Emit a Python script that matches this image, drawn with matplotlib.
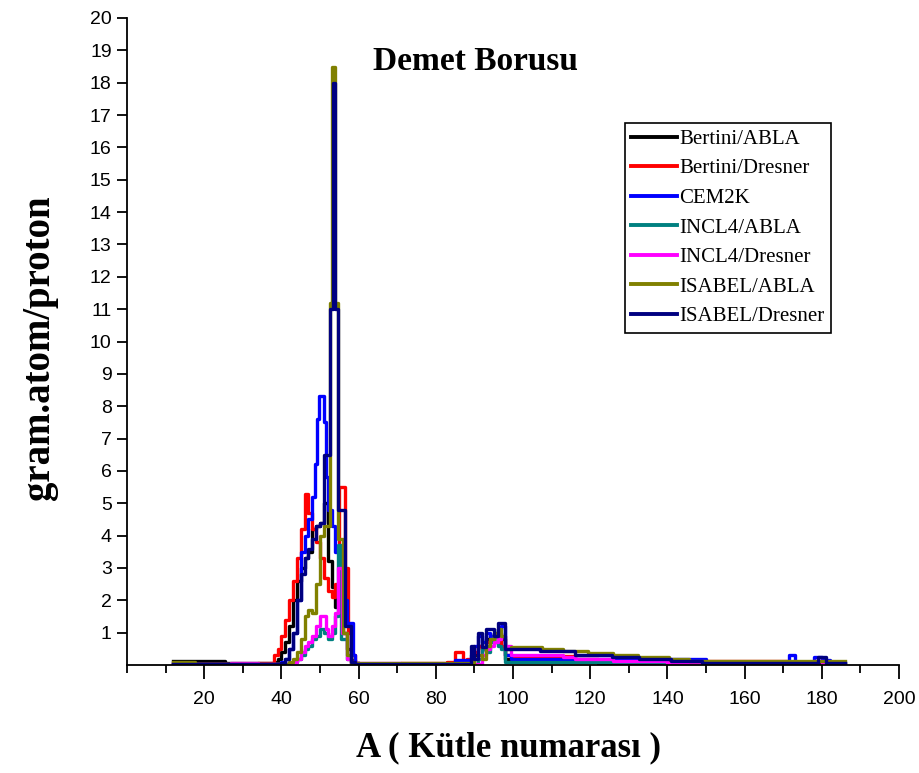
import numpy as np
import matplotlib.pyplot as plt
from matplotlib.ticker import MultipleLocator, FixedLocator

# step edges (A) and levels, drawn as steps-post
A_bertini_abla = [12, 25.5, 36, 38, 39, 40, 41, 42, 43, 44, 45, 46, 47, 48, 49, 50, 51, 52, 53, 54, 55, 56, 57, 58, 59, 60,
                  88, 90, 91, 92, 93, 94, 95, 96, 97, 98, 99.5, 113, 122, 150, 186]
y_bertini_abla = [0.13, 0.06, 0.05, 0.1, 0.2, 0.4, 0.7, 1.2, 2.0, 2.6, 3.0, 3.3, 3.5, 4.2, 4.3, 4.4, 5.0, 3.2, 2.4, 1.8, 1.6, 1.0, 0.5, 0.15, 0.05, 0.02,
                  0.1, 0.3, 0.6, 0.5, 0.8, 0.9, 0.7, 1.0, 0.8, 0.2, 0.12, 0.08, 0.05, 0.04, 0.04]

A_bertini_dresner = [12, 34, 38, 39, 40, 41, 42, 43, 44, 45, 46, 47, 48, 49, 50, 51, 52, 53, 54, 55, 56.6, 57.3, 58, 59, 60, 71, 83, 85, 87,
                     88, 90, 91, 92, 93, 94, 95, 96, 97, 98, 99.5, 113, 116, 122, 150, 171, 173]
y_bertini_dresner = [0.03, 0.07, 0.3, 0.5, 0.9, 1.4, 2.0, 2.6, 3.3, 4.2, 5.3, 4.7, 4.2, 3.8, 3.3, 2.7, 2.3, 2.1, 2.5, 5.5, 3.0, 1.0, 0.3, 0.06, 0.02, 0.06, 0.1, 0.4, 0.15,
                     0.2, 0.4, 0.6, 0.5, 0.7, 0.8, 0.9, 0.8, 0.6, 0.3, 0.24, 0.28, 0.2, 0.15, 0.13, 0.05, 0.05]

A_cem2k = [12, 40, 41, 42, 43, 44, 45, 46, 47, 48, 48.7, 49.3, 49.8, 51, 51.5, 52, 53, 54, 55, 56, 57, 58.5, 59, 60, 85, 89,
           90, 91, 92, 93, 94, 95, 96, 97, 98, 99.5, 150, 171.5, 173, 178, 180, 182, 186]
y_cem2k = [0.02, 0.1, 0.2, 0.5, 1.0, 2.0, 3.5, 4.0, 4.5, 5.2, 6.2, 7.6, 8.3, 7.5, 5.8, 4.8, 4.3, 3.5, 3.0, 2.0, 1.3, 0.3, 0.05, 0.02, 0.15, 0.3,
           0.6, 0.9, 0.7, 1.0, 0.9, 1.0, 1.1, 1.2, 0.3, 0.2, 0.08, 0.3, 0.1, 0.25, 0.15, 0.05, 0.05]

A_incl4_abla = [12, 42, 43, 44, 45, 46, 47, 48, 49, 50, 51, 52, 53, 54, 54.6, 55.5, 57, 58,
                91, 92, 93, 94, 95, 96, 97, 98, 99.5, 139, 160]
y_incl4_abla = [0.02, 0.05, 0.1, 0.2, 0.3, 0.5, 0.6, 0.8, 0.9, 1.1, 1.0, 0.8, 1.0, 1.5, 3.7, 0.8, 0.2, 0.02,
                0.2, 0.5, 0.4, 0.7, 0.9, 0.6, 0.5, 0.1, 0.08, 0.03, 0.03]

A_incl4_dresner = [12, 27, 34, 42, 43, 44, 45, 46, 47, 48, 49, 50, 51.5, 52, 53, 54, 54.6, 55.8, 57, 58, 59, 71,
                   92, 93, 94, 95, 96, 97, 98, 99.5, 113, 116, 126, 140, 150, 178, 180, 182]
y_incl4_dresner = [0.02, 0.06, 0.02, 0.05, 0.1, 0.2, 0.4, 0.6, 0.7, 0.9, 1.2, 1.5, 1.1, 0.9, 1.2, 1.6, 3.0, 1.0, 0.2, 0.05, 0.06, 0.02,
                   0.3, 0.5, 0.6, 0.7, 0.8, 0.9, 0.6, 0.3, 0.24, 0.18, 0.11, 0.07, 0.03, 0.12, 0.03, 0.03]

A_isabel_abla = [12, 17.5, 42, 43, 44, 45, 46, 47, 48, 49, 50, 51, 52.6, 53.2, 54.0, 54.7, 56, 57, 58,
                 90, 91, 92, 93, 94, 95, 96, 97, 98, 99.5, 107.5, 113, 119.5, 126, 132.5, 140.5, 145.5, 186]
y_isabel_abla = [0.1, 0.03, 0.1, 0.2, 0.4, 0.8, 1.5, 1.7, 1.6, 2.5, 4.0, 4.3, 11.2, 18.5, 11.2, 3.9, 1.0, 0.3, 0.05,
                 0.2, 0.3, 0.2, 0.6, 0.8, 1.0, 1.1, 0.9, 0.5, 0.56, 0.5, 0.44, 0.38, 0.31, 0.24, 0.18, 0.13, 0.13]

A_isabel_dresner = [12, 40, 41, 42, 43, 44, 45, 46, 47, 48, 49, 50, 51, 52.7, 53.3, 54.0, 54.6, 56.6, 58, 59,
                    89, 90, 91, 92, 93, 94, 95, 96, 98, 107, 116, 125.7, 132.6, 141, 149, 179, 181, 186]
y_isabel_dresner = [0.03, 0.05, 0.2, 0.5, 1.0, 2.0, 2.8, 3.3, 3.6, 3.9, 4.3, 4.4, 6.5, 11.0, 18.0, 11.0, 4.8, 1.2, 0.1, 0.02,
                    0.6, 0.2, 1.0, 0.55, 1.1, 1.1, 0.9, 1.3, 0.5, 0.42, 0.31, 0.24, 0.18, 0.11, 0.07, 0.25, 0.07, 0.07]

series = [
    ("Bertini/ABLA", A_bertini_abla, y_bertini_abla, "#000000"),
    ("Bertini/Dresner", A_bertini_dresner, y_bertini_dresner, "#ff0000"),
    ("CEM2K", A_cem2k, y_cem2k, "#0000ff"),
    ("INCL4/ABLA", A_incl4_abla, y_incl4_abla, "#008080"),
    ("INCL4/Dresner", A_incl4_dresner, y_incl4_dresner, "#ff00ff"),
    ("ISABEL/ABLA", A_isabel_abla, y_isabel_abla, "#808000"),
    ("ISABEL/Dresner", A_isabel_dresner, y_isabel_dresner, "#000080"),
]

x_ticks = list(range(20, 201, 20))
y_ticks = list(range(1, 21))

serif = ["Liberation Serif", "DejaVu Serif"]
sans = ["Liberation Sans", "DejaVu Sans"]

fig = plt.figure(figsize=(9.19, 7.73), dpi=100)
ax = fig.add_axes([127/919, 108/773, 772/919, 647/773])

for name, A, y, c in series:
    ax.step(A, y, where="post", color=c, lw=2.4, label=name)

ax.set_xlim(0, 200)
ax.set_ylim(0, 20)
ax.spines["top"].set_visible(False)
ax.spines["right"].set_visible(False)
for s in ("left", "bottom"):
    ax.spines[s].set_linewidth(1.3)

ax.xaxis.set_major_locator(FixedLocator(x_ticks))
ax.xaxis.set_minor_locator(MultipleLocator(10))
ax.yaxis.set_major_locator(FixedLocator(y_ticks))
ax.tick_params(axis="x", which="major", direction="out", length=10, width=1.3, pad=9)
ax.tick_params(axis="x", which="minor", direction="out", length=6, width=1.3)
ax.tick_params(axis="y", which="major", direction="out", length=7, width=1.3, pad=4)
for lab in ax.get_xticklabels() + ax.get_yticklabels():
    lab.set_family(sans)
    lab.set_fontsize(14)

leg = ax.legend(loc="upper left", bbox_to_anchor=(625/919, 1 - 123/773), bbox_transform=fig.transFigure,
                prop={"family": serif, "size": 15}, frameon=True, fancybox=False, framealpha=1,
                edgecolor="black", handlelength=2.2, handletextpad=0.1, labelspacing=0.48,
                borderpad=0.3, borderaxespad=0)
leg.get_frame().set_linewidth(1.2)
for h in leg.get_lines():
    h.set_linewidth(2.8)

fig.text(475/919, 1 - 62/773, "Demet Borusu", family=serif, fontsize=24, fontweight="bold",
         ha="center", va="center")
fig.text(508/919, 1 - 748/773, "A ( Kütle numarası )", family=serif, fontsize=25, fontweight="bold",
         ha="center", va="center")
fig.text(40/919, 1 - 348/773, "gram.atom/proton", family=serif, fontsize=28, fontweight="bold",
         ha="center", va="center", rotation=90)

fig.savefig("out.png", dpi=100)
